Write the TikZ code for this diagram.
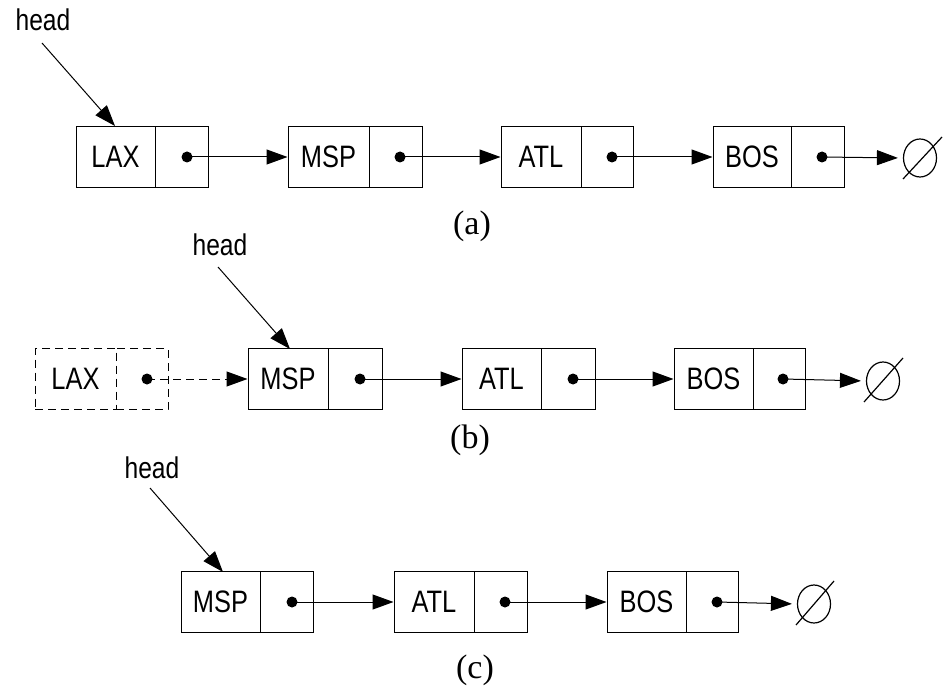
\documentclass[tikz,border=0pt]{standalone}
\usepackage{fontspec}
\setmainfont{Liberation Serif}
\newfontfamily\lblfont[FakeStretch=0.82]{Liberation Sans}
\usetikzlibrary{arrows.meta,shapes.geometric}
\tikzset{
  cell/.style={draw, rectangle, line width=1pt, minimum height=61pt, inner sep=0pt,
    font=\lblfont\fontsize{31}{34}\selectfont},
  dcell/.style={cell, dash pattern=on 8pt off 5pt},
  dotnode/.style={circle, fill=black, minimum size=11pt, inner sep=0pt},
  arr/.style={line width=1pt, -{Triangle[length=21pt,width=15pt]}},
  darr/.style={arr, dash pattern=on 8pt off 5pt},
  headlbl/.style={font=\lblfont\fontsize{30}{33}\selectfont, inner sep=0pt},
  caplbl/.style={font=\fontsize{34}{37}\selectfont, inner sep=0pt},
  nullset/.style={draw, ellipse, line width=1.2pt, minimum width=33pt, minimum height=38pt, inner sep=0pt},
  nullarr/.style={arr, shorten >=5pt},
}
\begin{document}
\begin{tikzpicture}[x=1pt,y=-1pt]
\useasboundingbox[fill=white] (0,0) rectangle (944,692);

% ---------- (a) ----------
\node[headlbl] (ha) at (43,20) {head};
\node[cell, minimum width=79pt] (a1) at (115.5,157) {LAX};
\node[cell, minimum width=53pt] (a1p) at (181.5,157) {};
\node[cell, minimum width=81pt] (a2) at (328.5,157) {MSP};
\node[cell, minimum width=53pt] (a2p) at (395.5,157) {};
\node[cell, minimum width=80pt] (a3) at (541,157) {ATL};
\node[cell, minimum width=52pt] (a3p) at (607,157) {};
\node[cell, minimum width=78pt] (a4) at (752,157) {BOS};
\node[cell, minimum width=53pt] (a4p) at (817.5,157) {};
\node[dotnode] (a1d) at (187,157) {};
\node[dotnode] (a2d) at (400,157) {};
\node[dotnode] (a3d) at (612,157) {};
\node[dotnode] (a4d) at (822,157) {};
\node[nullset] (an) at (920,158) {};
\coordinate (as1) at (903,179);
\coordinate (as2) at (942,137);
\draw[line width=1.2pt] (as1) -- (as2);
\coordinate (hat) at (115,126);
\draw[arr] (42,43) -- (hat);
\draw[arr] (a1d.center) -- (a2.west);
\draw[arr] (a2d.center) -- (a3.west);
\draw[arr] (a3d.center) -- (a4.west);
\draw[nullarr] (a4d.center) -- (an.west);
\node[caplbl] (capa) at (472,226) {(a)};

% ---------- (b) ----------
\node[headlbl] (hb) at (220,245) {head};
\node[dcell, minimum width=81pt] (b0) at (75.5,379) {LAX};
\node[dcell, minimum width=52pt] (b0p) at (142,379) {};
\node[cell, minimum width=80pt] (b1) at (288,379) {MSP};
\node[cell, minimum width=54pt] (b1p) at (355,379) {};
\node[cell, minimum width=79pt] (b2) at (501.5,379) {ATL};
\node[cell, minimum width=54pt] (b2p) at (568,379) {};
\node[cell, minimum width=79pt] (b3) at (713.5,379) {BOS};
\node[cell, minimum width=52pt] (b3p) at (779,379) {};
\node[dotnode] (b0d) at (147,379) {};
\node[dotnode] (b1d) at (360,379) {};
\node[dotnode] (b2d) at (573,379) {};
\node[dotnode] (b3d) at (783,379) {};
\node[nullset] (bn) at (883,381) {};
\coordinate (bs1) at (864,402);
\coordinate (bs2) at (903,358);
\draw[line width=1.2pt] (bs1) -- (bs2);
\coordinate (hbt) at (290,349);
\draw[arr] (218,267) -- (hbt);
\draw[darr] (b0d.center) -- (b1.west);
\draw[arr] (b1d.center) -- (b2.west);
\draw[arr] (b2d.center) -- (b3.west);
\draw[nullarr] (b3d.center) -- (bn.west);
\node[caplbl] (capb) at (470,440) {(b)};

% ---------- (c) ----------
\node[headlbl] (hc) at (152,468) {head};
\node[cell, minimum width=79pt] (c1) at (220.5,602) {MSP};
\node[cell, minimum width=53pt] (c1p) at (286.5,602) {};
\node[cell, minimum width=80pt] (c2) at (434,602) {ATL};
\node[cell, minimum width=53pt] (c2p) at (500.5,602) {};
\node[cell, minimum width=79pt] (c3) at (646.5,602) {BOS};
\node[cell, minimum width=52pt] (c3p) at (712,602) {};
\node[dotnode] (c1d) at (292,602) {};
\node[dotnode] (c2d) at (505,602) {};
\node[dotnode] (c3d) at (717,602) {};
\node[nullset] (cn) at (814,604) {};
\coordinate (cs1) at (796,625);
\coordinate (cs2) at (834,581);
\draw[line width=1.2pt] (cs1) -- (cs2);
\coordinate (hct) at (223,572);
\draw[arr] (150,488) -- (hct);
\draw[arr] (c1d.center) -- (c2.west);
\draw[arr] (c2d.center) -- (c3.west);
\draw[nullarr] (c3d.center) -- (cn.west);
\node[caplbl] (capc) at (475,670) {(c)};
\end{tikzpicture}
\end{document}
